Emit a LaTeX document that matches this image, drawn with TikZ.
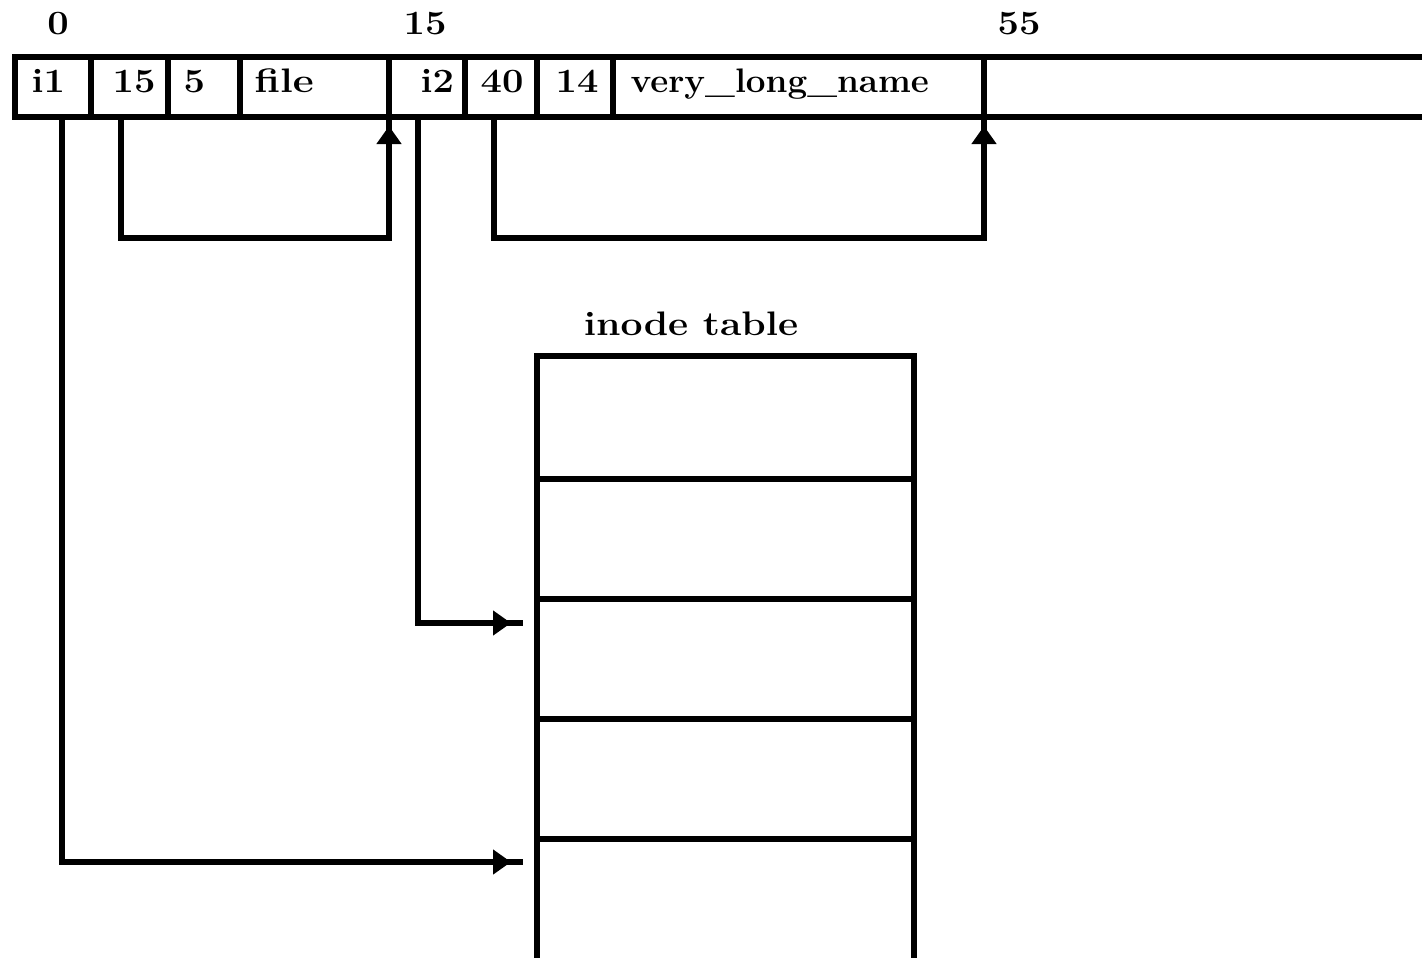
\documentclass[tikz,border=0pt]{standalone}
\usepackage{graphicx}
\usetikzlibrary{arrows.meta}
\newcommand{\wider}[2][1.12]{\scalebox{#1}[1]{#2}}
\begin{document}
\begin{tikzpicture}[x=0.5pt,y=-0.5pt,line width=2.6pt,
  cell/.style={draw,anchor=north west,minimum height=30pt,inner sep=0pt,outer sep=0pt},
  row/.style={draw,anchor=north west,minimum width=188.5pt,inner sep=0pt,outer sep=0pt},
  txt/.style={anchor=base west,inner sep=0pt,font=\fontsize{17}{20}\selectfont\bfseries},
  lbl/.style={anchor=base,inner sep=0pt,font=\fontsize{17}{20}\selectfont\bfseries},
  link/.style={line join=miter},
  tip/.style={link,-{Triangle[length=9pt,width=12pt]}}]
\useasboundingbox (0,0) rectangle (1422,958);
% directory entries bar
\node[cell,minimum width=38pt]   (c1) at (15,57)  {};
\node[cell,minimum width=38.5pt] (c2) at (91,57)  {};
\node[cell,minimum width=36pt]   (c3) at (168,57) {};
\node[cell,minimum width=74.5pt] (c4) at (240,57) {};
\node[cell,minimum width=38pt]   (c5) at (389,57) {};
\node[cell,minimum width=36pt]   (c6) at (465,57) {};
\node[cell,minimum width=38pt]   (c7) at (537,57) {};
\node[cell,minimum width=185.5pt](c8) at (613,57) {};
\coordinate (barT) at (1422,57);
\coordinate (barB) at (1422,117);
\draw (c8.north east) -- (barT);
\draw (c8.south east) -- (barB);
% cell texts
\node[txt] (t1) at (29,92)  {\wider{i1}};
\node[txt] (t2) at (110,92) {\wider{15}};
\node[txt] (t3) at (181,92) {\wider{5}};
\node[txt] (t4) at (252,92) {\wider[1.2]{file}};
\node[txt] (t5) at (418,92) {\wider{i2}};
\node[txt] (t6) at (478,92) {\wider{40}};
\node[txt] (t7) at (553,92) {\wider{14}};
\node[txt] (t8) at (628,92) {\wider[1.03]{very\_long\_name}};
% offsets
\node[lbl] (o0)  at (58,34)   {\wider{0}};
\node[lbl] (o15) at (425,34)  {\wider{15}};
\node[lbl] (o55) at (1019,34) {\wider{55}};
% inode table
\node[lbl] (title) at (691,335) {\wider[1.15]{inode table}};
\node[row,minimum height=61.5pt] (r1) at (537,356) {};
\node[row,minimum height=60pt]   (r2) at (537,479) {};
\node[row,minimum height=60pt]   (r3) at (537,599) {};
\node[row,minimum height=60pt]   (r4) at (537,719) {};
\coordinate (r5L) at (537,958);
\coordinate (r5R) at (914,958);
\draw (r4.south west) -- (r5L);
\draw (r4.south east) -- (r5R);
% connector feet and ends
\coordinate (f1) at (62,117);
\coordinate (f2) at (121,117);
\coordinate (f5) at (418,117);
\coordinate (f6) at (494,117);
\coordinate (e3) at (523,623);
\coordinate (e5) at (523,862);
% record length links
\draw[link] (f2) -- (121,238) -| (c4.south east);
\draw[tip,shorten >=4.5pt] (f2) -- (121,238) -| (c4.south east);
\draw[link] (f6) -- (494,238) -| (c8.south east);
\draw[tip,shorten >=4.5pt] (f6) -- (494,238) -| (c8.south east);
% inode links
\draw[link] (f5) |- (e3);
\draw[tip,shorten >=6pt] (f5) |- (e3);
\draw[link] (f1) |- (e5);
\draw[tip,shorten >=6pt] (f1) |- (e5);
\end{tikzpicture}
\end{document}
